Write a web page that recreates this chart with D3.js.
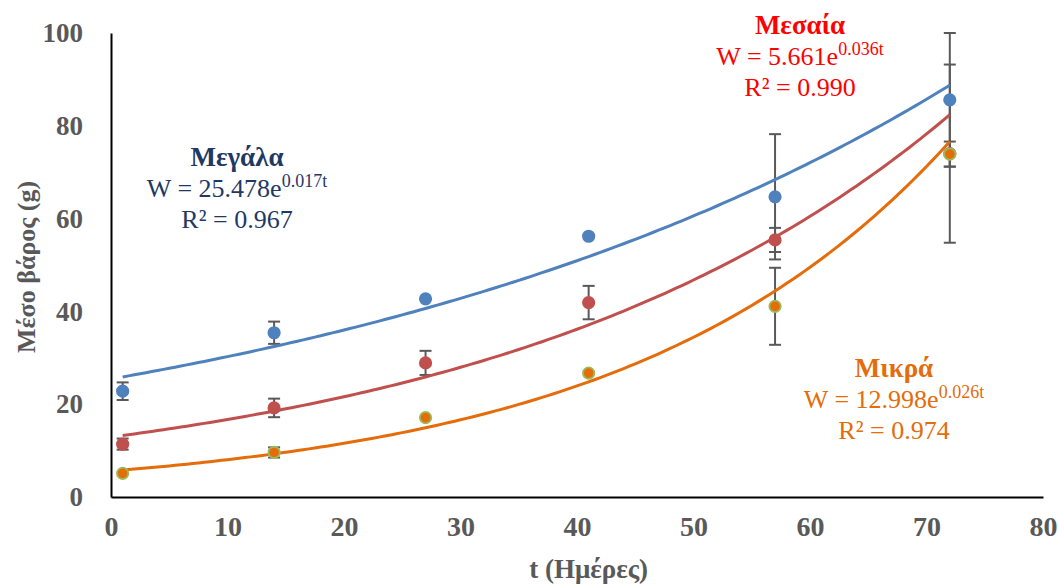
<!DOCTYPE html>
<html>
<head>
<meta charset="utf-8">
<script src="https://cdn.jsdelivr.net/npm/d3@7"></script>
<style>
  html, body { margin: 0; padding: 0; background: #fff; }
  svg { display: block; }
  text { font-family: "Liberation Serif", "Times New Roman", serif; }
</style>
</head>
<body>
<svg id="chart" width="1058" height="584"></svg>
<script>
// ---- data ----
const days = [1, 14, 27, 41, 57, 72];

const blueValues = [22.8, 35.4, 42.7, 56.2, 64.7, 85.6];
const blueErrors = [1.9, 2.4, 0, 0, 13.5, 14.4];

const redValues = [11.4, 19.2, 28.9, 41.9, 55.4, 74.0];
const redErrors = [1.2, 2.0, 2.6, 3.6, 2.6, 19.2];

const orangeValues = [5.1, 9.6, 17.1, 26.7, 41.1, 73.9];
const orangeErrors = [0, 1.1, 0, 0, 8.3, 2.7];

const xTicks = [0, 10, 20, 30, 40, 50, 60, 70, 80];
const yTicks = [0, 20, 40, 60, 80, 100];

const labelBlue = ["Μεγάλα", "W = 25.478e", "0.017t", "R² = 0.967"];
const labelRed = ["Μεσαία", "W = 5.661e", "0.036t", "R² = 0.990"];
const labelOrange = ["Μικρά", "W = 12.998e", "0.026t", "R² = 0.974"];

const xTitle = "t (Ημέρες)";
const yTitle = "Μέσο βάρος (g)";

// ---- layout ----
const svg = d3.select("#chart");
const x = d3.scaleLinear().domain([0, 80]).range([111, 1043]);
const y = d3.scaleLinear().domain([0, 100]).range([497, 33]);
const gray = "#595959";

// exponential fit (least squares on ln y), as a spreadsheet trendline
function expFit(xs, ys) {
  const n = xs.length;
  const ly = ys.map(Math.log);
  const mx = d3.mean(xs), my = d3.mean(ly);
  let sxy = 0, sxx = 0;
  for (let i = 0; i < n; i++) { sxy += (xs[i]-mx)*(ly[i]-my); sxx += (xs[i]-mx)*(xs[i]-mx); }
  const b = sxy / sxx;
  const a = Math.exp(my - b * mx);
  return t => a * Math.exp(b * t);
}

const series = [
  { vals: blueValues, errs: blueErrors, line: "#4f81bd", fill: "#4f81bd", stroke: "#4f81bd" },
  { vals: redValues, errs: redErrors, line: "#c0504d", fill: "#c0504d", stroke: "#c0504d" },
  { vals: orangeValues, errs: orangeErrors, line: "#e46c0a", fill: "#e46c0a", stroke: "#9bbb59" }
];

// axes
const xAxis = svg.append("g").attr("transform", `translate(0,${y(0)})`)
  .call(d3.axisBottom(x).tickValues(xTicks).tickSize(0).tickPadding(19).tickFormat(d3.format("d")));
xAxis.select(".domain").attr("stroke", "#000").attr("stroke-width", 2);
xAxis.selectAll("text").attr("fill", gray).attr("font-size", 28).attr("font-weight", "bold")
  .style("font-family", "'Liberation Serif', serif");

const yAxis = svg.append("g").attr("transform", `translate(${x(0)},0)`)
  .call(d3.axisLeft(y).tickValues(yTicks).tickSize(0).tickPadding(28).tickFormat(d3.format("d")));
yAxis.select(".domain").attr("stroke", "#000").attr("stroke-width", 2);
yAxis.selectAll("text").attr("fill", gray).attr("font-size", 27).attr("font-weight", "bold")
  .style("font-family", "'Liberation Serif', serif");

// error bars
series.forEach(s => {
  const g = svg.append("g").attr("stroke", gray).attr("stroke-width", 2);
  days.forEach((d, i) => {
    const e = s.errs[i];
    if (!e) return;
    const cx = x(d), y1 = y(s.vals[i] + e), y2 = y(s.vals[i] - e);
    g.append("line").attr("x1", cx).attr("x2", cx).attr("y1", y1).attr("y2", y2);
    g.append("line").attr("x1", cx - 6).attr("x2", cx + 6).attr("y1", y1).attr("y2", y1);
    g.append("line").attr("x1", cx - 6).attr("x2", cx + 6).attr("y1", y2).attr("y2", y2);
  });
});

// trend lines
series.forEach(s => {
  const f = expFit(days, s.vals);
  const ts = d3.range(days[0], days[days.length - 1] + 0.01, 0.5);
  svg.append("path")
    .datum(ts)
    .attr("fill", "none")
    .attr("stroke", s.line)
    .attr("stroke-width", 3)
    .attr("d", d3.line().x(t => x(t)).y(t => y(f(t))));
});

// points
series.forEach(s => {
  svg.append("g").selectAll("circle").data(s.vals).join("circle")
    .attr("cx", (v, i) => x(days[i]))
    .attr("cy", v => y(v))
    .attr("r", 5.7)
    .attr("fill", s.fill)
    .attr("stroke", s.stroke)
    .attr("stroke-width", 1.8);
});

// annotations
function annotate(lbl, cx, top, color) {
  const g = svg.append("g").attr("fill", color).attr("text-anchor", "middle").attr("font-size", 26);
  g.append("text").attr("x", cx).attr("y", top).attr("font-weight", "bold").attr("font-size", 27).text(lbl[0]);
  const eq = g.append("text").attr("x", cx).attr("y", top + 31);
  eq.append("tspan").text(lbl[1]);
  eq.append("tspan").attr("dy", -10).attr("font-size", 18).text(lbl[2]);
  g.append("text").attr("x", cx).attr("y", top + 62).text(lbl[3]);
}
annotate(labelBlue, 237, 166, "#1f3864");
annotate(labelRed, 800, 34, "#ff0000");
annotate(labelOrange, 894, 377, "#e46c0a");

// axis titles
svg.append("text").attr("x", x(41)).attr("y", 578).attr("text-anchor", "middle")
  .attr("font-size", 27).attr("font-weight", "bold").attr("fill", gray).text(xTitle);
svg.append("text").attr("transform", "translate(35,267) rotate(-90)").attr("text-anchor", "middle")
  .attr("font-size", 26).attr("font-weight", "bold").attr("fill", gray).text(yTitle);
</script>
</body>
</html>
